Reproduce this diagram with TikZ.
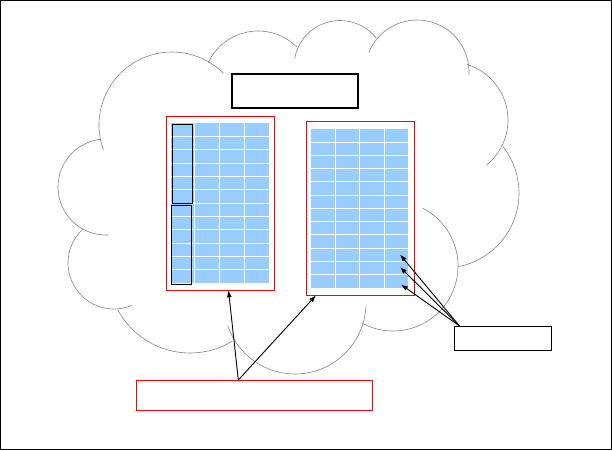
\documentclass[tikz,border=0pt]{standalone}
\usetikzlibrary{arrows.meta}
\definecolor{cellblue}{RGB}{153,204,255}
\definecolor{cloudgray}{RGB}{140,140,140}
\begin{document}
\begin{tikzpicture}[x=1pt,y=1pt,
  cloudline/.style={draw=cloudgray, line width=0.65pt},
  redbox/.style={draw=red, line width=0.9pt, inner sep=0pt, outer sep=0pt, anchor=south west},
  blackbox/.style={draw=black, line width=0.9pt, inner sep=0pt, outer sep=0pt, anchor=south west},
  titlebox/.style={draw=black, line width=1.8pt, inner sep=0pt, outer sep=0pt, anchor=south west},
  gridline/.style={draw=white, line width=0.9pt},
  arrowline/.style={draw=black, line width=0.9pt, -{Latex[length=7pt,width=5pt]}}
]
\useasboundingbox (0,0) rectangle (612,450);
\draw[line width=1pt] (0.5,0.5) rectangle (611.5,449.5);

% cloud puffs
\draw[cloudline] (172,325) ++(200:73) arc[start angle=200, end angle=45, radius=73];
\draw[cloudline] (258,364) ++(155:55) arc[start angle=155, end angle=45, radius=55];
\draw[cloudline] (340,383.5) ++(170:46) arc[start angle=170, end angle=38, radius=46];
\draw[cloudline] (417,378) ++(158:52) arc[start angle=158, end angle=-4, radius=52];
\draw[cloudline] (450,330) ++(73:58) arc[start angle=73, end angle=-51, radius=58];
\draw[cloudline] (444,257) ++(38:75) arc[start angle=38, end angle=-79, radius=75];
\draw[cloudline] (393,184) ++(63:65) arc[start angle=63, end angle=-119, radius=65];
\draw[cloudline] (295,147) ++(-2:71) arc[start angle=-2, end angle=-161, radius=71];
\draw[cloudline] (190,179) ++(-59:82) arc[start angle=-59, end angle=-152, radius=82];
\draw[cloudline] (114,187) ++(-67:46) arc[start angle=-67, end angle=-227, radius=46];
\draw[cloudline] (106,263) ++(97:48) arc[start angle=97, end angle=273, radius=48];

% title box
\node[titlebox, minimum width=126.3pt, minimum height=33.4pt] (title) at (231.7,342.3) {};

% left table
\node[redbox, minimum width=108.3pt, minimum height=174.3pt] (leftbox) at (166,159.7) {};
\fill[cellblue] (171,167) rectangle (269,326.7);
\foreach \x in {194.7,219.3,244.3} \draw[gridline] (\x,167) -- (\x,326.7);
\foreach \i in {1,...,11} \draw[gridline] (171,{167+\i*13.308}) -- (269,{167+\i*13.308});
\node[blackbox, minimum width=20.3pt, minimum height=79.3pt] (grpa) at (172,246.7) {};
\node[blackbox, minimum width=20pt, minimum height=78.7pt] (grpb) at (171.3,166) {};

% right table
\node[redbox, minimum width=108.3pt, minimum height=174.3pt] (rightbox) at (306,154.7) {};
\fill[cellblue] (311,162) rectangle (408,321.3);
\foreach \x in {335.3,359.7,384.7} \draw[gridline] (\x,162) -- (\x,321.3);
\foreach \i in {1,...,11} \draw[gridline] (311,{162+\i*13.275}) -- (408,{162+\i*13.275});

% bottom red label box
\node[redbox, minimum width=236.3pt, minimum height=30pt] (bottom) at (136,40) {};
% right note box
\node[blackbox, minimum width=97.4pt, minimum height=24pt] (note) at (454.3,100) {};

% connectors
\coordinate (fork) at (238.3,70);
\coordinate (tipl) at (228.5,159.7);
\coordinate (tipr) at (316,154.7);
\draw[arrowline] (fork) -- (tipl);
\draw[arrowline] (fork) -- (tipr);

\coordinate (nfork) at (459.5,124);
\coordinate (c1) at (400,195.5);
\coordinate (c2) at (400,183);
\coordinate (c3) at (401,165.5);
\draw[arrowline] (nfork) -- (c1);
\draw[arrowline] (nfork) -- (c2);
\draw[arrowline] (nfork) -- (c3);
\end{tikzpicture}
\end{document}
